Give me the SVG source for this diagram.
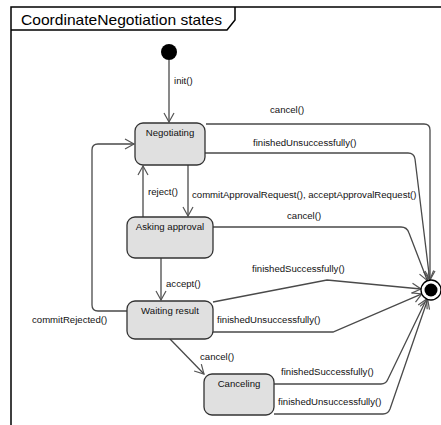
<svg xmlns="http://www.w3.org/2000/svg" width="441" height="425" viewBox="0 0 441 425">
  <style>
    .frame { fill: none; stroke: #000; stroke-width: 1.5; }
    .state rect { fill: #e0e0e0; stroke: #333; stroke-width: 1.3; }
    .state text { font-family: "Liberation Sans", Arial, sans-serif; font-size: 9.6px; fill: #111; text-anchor: middle; }
    .edge { fill: none; stroke: #4a4a4a; stroke-width: 1.3; marker-end: url(#open); }
    .lbl { font-family: "Liberation Sans", Arial, sans-serif; font-size: 9.6px; fill: #111; }
  </style>
  <defs>
    <marker id="open" viewBox="-11 -7 13 14" markerUnits="userSpaceOnUse" markerWidth="13" markerHeight="14" refX="0" refY="0" orient="auto" overflow="visible">
      <path d="M-9,-5 L0,0 L-9,5" fill="none" stroke="#555" stroke-width="1.2"/>
    </marker>
  </defs>
  <rect width="441" height="425" fill="#fff"/>

  <!-- diagram frame with name tab -->
  <g id="frame">
    <path class="frame" d="M11,425 L11,7 L441,7"/>
    <path class="frame" d="M11,30 L227,30 L235,20 L235,7"/>
    <text x="21" y="25" font-family="Liberation Sans, Arial, sans-serif" font-size="14.5" textLength="201" lengthAdjust="spacingAndGlyphs" fill="#000">CoordinateNegotiation states</text>
  </g>

  <!-- connectors -->
  <g id="connectors">
    <path class="edge" d="M169,60 L169,122"/>
    <text class="lbl" x="174" y="84">init()</text>

    <path class="edge" d="M206,124 L424,124 Q430,124 430,130 L430,280"/>
    <text class="lbl" x="270" y="113">cancel()</text>

    <path class="edge" d="M205,153 L408,153 Q414,153 415,159 L429.8,280.1"/>
    <text class="lbl" x="253" y="146">finishedUnsuccessfully()</text>

    <path class="edge" d="M188,165 L188,216"/>
    <text class="lbl" x="192" y="198">commitApprovalRequest(), acceptApprovalRequest()</text>

    <path class="edge" d="M143,217 L143,166"/>
    <text class="lbl" x="148" y="195">reject()</text>

    <path class="edge" d="M213,227 L401,227 Q407,227 409,233 L427.4,280.7"/>
    <text class="lbl" x="287" y="219">cancel()</text>

    <path class="edge" d="M161,258 L161,300"/>
    <text class="lbl" x="166" y="287">accept()</text>

    <path class="edge" d="M213,302 L327,280 L421,289"/>
    <text class="lbl" x="252" y="272">finishedSuccessfully()</text>

    <path class="edge" d="M213,332 L333,332 L421.8,293.9"/>
    <text class="lbl" x="217" y="323">finishedUnsuccessfully()</text>

    <path class="edge" d="M127,311 L98,311 Q92,311 92,305 L92,150 Q92,144 98,144 L134,144"/>
    <text class="lbl" x="32" y="323">commitRejected()</text>

    <path class="edge" d="M170,339 L204,374"/>
    <text class="lbl" x="200" y="360">cancel()</text>

    <path class="edge" d="M274,384 L381,384 Q386,384 388,379 L426.6,299"/>
    <text class="lbl" x="281" y="375">finishedSuccessfully()</text>

    <path class="edge" d="M274,414 L383,414 Q388,414 390,409 L427.7,299.5"/>
    <text class="lbl" x="278" y="405">finishedUnsuccessfully()</text>
  </g>

  <!-- states -->
  <g id="initial">
    <circle cx="169" cy="52" r="8" fill="#000"/>
  </g>
  <g id="negotiating" class="state">
    <rect x="135" y="123" width="70" height="42" rx="8"/>
    <text x="170" y="135.5">Negotiating</text>
  </g>
  <g id="asking-approval" class="state">
    <rect x="127" y="217" width="86" height="41" rx="8"/>
    <text x="170" y="229.5">Asking approval</text>
  </g>
  <g id="waiting-result" class="state">
    <rect x="127" y="301" width="86" height="38" rx="8"/>
    <text x="170" y="313.5">Waiting result</text>
  </g>
  <g id="canceling" class="state">
    <rect x="204" y="374" width="70" height="41" rx="8"/>
    <text x="239" y="386.5">Canceling</text>
  </g>
  <g id="final">
    <circle cx="431" cy="290" r="10" fill="#fff" stroke="#000" stroke-width="1.3"/>
    <circle cx="431" cy="290" r="6.5" fill="#000"/>
  </g>
</svg>
